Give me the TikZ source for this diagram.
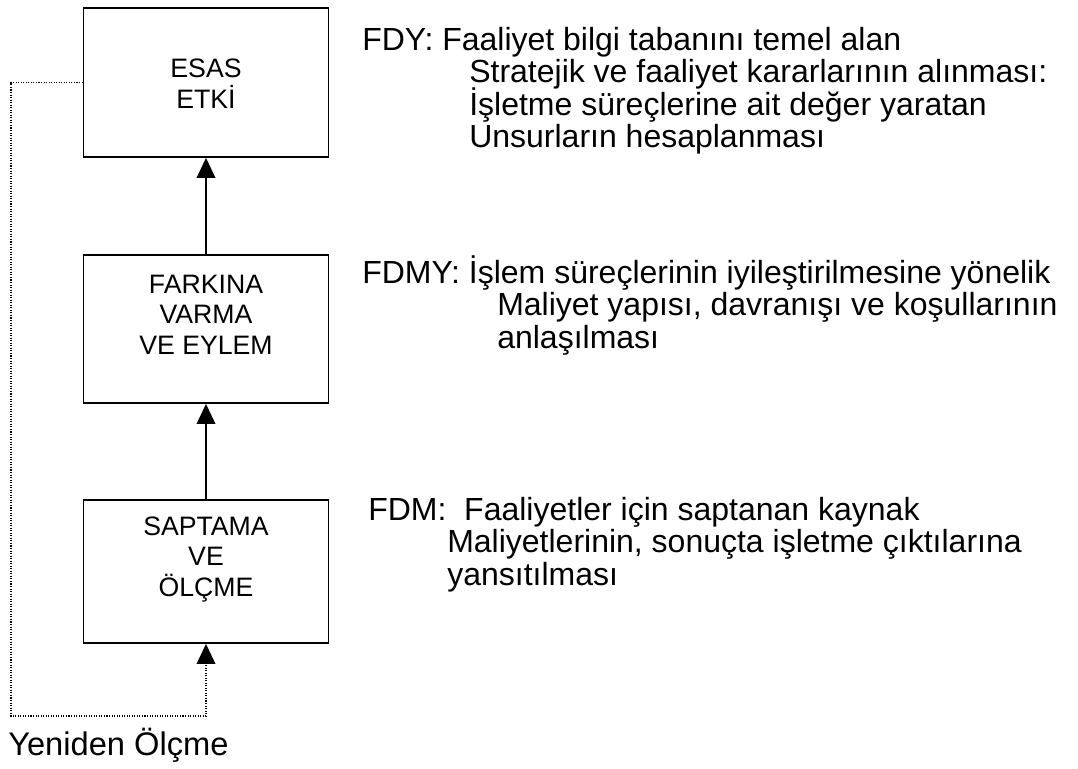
\documentclass[tikz,border=0pt]{standalone}
\usepackage{fontspec}
\setmainfont{Liberation Sans}
\usetikzlibrary{arrows.meta}
\begin{document}
\begin{tikzpicture}[x=0.75pt,y=-0.75pt,
  stage/.style={draw, line width=1.4pt, minimum width=183.75pt, inner sep=0pt},
  stagetext/.style={anchor=base, inner sep=0pt, font=\fontsize{20}{22}\selectfont},
  note/.style={anchor=base west, inner sep=0pt, font=\fontsize{24}{24}\selectfont},
  flow/.style={line width=1.1pt, -{Triangle[width=14pt,length=15pt]}},
  loop/.style={line width=1.1pt, dash pattern=on 0.8pt off 1.1pt, -{Triangle[width=14pt,length=15pt]}}]
  \useasboundingbox (0,0) rectangle (1078,768);

  % the three stages
  \node[stage, minimum height=111.75pt] (esas) at (206,82.5) {};
  \node[stage, minimum height=111pt] (fark) at (206,329) {};
  \node[stage, minimum height=107.25pt] (sapt) at (206,571.5) {};

  % stage labels
  \node[stagetext] (esas1) at (206,77) {ESAS};
  \node[stagetext] (esas2) at (206,108) {ETKİ};
  \node[stagetext] (fark1) at (206,293) {FARKINA};
  \node[stagetext] (fark2) at (206,323.5) {VARMA};
  \node[stagetext] (fark3) at (206,354) {VE EYLEM};
  \node[stagetext] (sapt1) at (206,535) {SAPTAMA};
  \node[stagetext] (sapt2) at (206,565.5) {VE};
  \node[stagetext] (sapt3) at (206,596) {ÖLÇME};

  % upward flow
  \draw[flow] (sapt.north) -- (fark.south);
  \draw[flow] (fark.north) -- (esas.south);

  % re-measurement loop
  \coordinate (loopcorner) at (11,716);
  \draw[loop] (esas.west) -- (esas.west -| loopcorner) -- (loopcorner)
    -- (loopcorner -| sapt.south) -- (sapt.south);
  \node[anchor=base west, inner sep=0pt, font=\fontsize{24.5}{24.5}\selectfont] (yeniden) at (8,755) {Yeniden Ölçme};

  % FDY
  \node[note] (fdy1) at (362,50) {FDY: Faaliyet bilgi tabanını temel alan};
  \node[note] (fdy2) at (469,82.5) {Stratejik ve faaliyet kararlarının alınması:};
  \node[note] (fdy3) at (469,115) {İşletme süreçlerine ait değer yaratan};
  \node[note] (fdy4) at (469,147.5) {Unsurların hesaplanması};

  % FDMY
  \node[note] (fdmy1) at (362,283) {FDMY: İşlem süreçlerinin iyileştirilmesine yönelik};
  \node[note] (fdmy2) at (497,315.5) {Maliyet yapısı, davranışı ve koşullarının};
  \node[note] (fdmy3) at (497,348) {anlaşılması};

  % FDM
  \node[note] (fdm1) at (368,520) {FDM:\ \ Faaliyetler için saptanan kaynak};
  \node[note] (fdm2) at (447,552.5) {Maliyetlerinin, sonuçta işletme çıktılarına};
  \node[note] (fdm3) at (447,585) {yansıtılması};
\end{tikzpicture}
\end{document}
